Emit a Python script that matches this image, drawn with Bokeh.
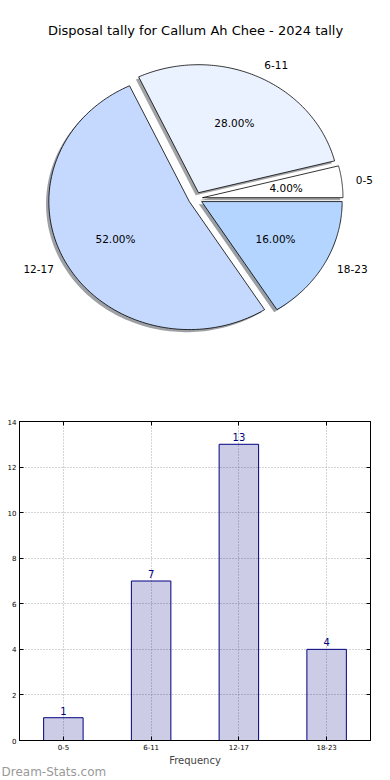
import numpy as np
from bokeh.plotting import figure
from bokeh.models import (Range1d, Label, ColumnDataSource, FactorRange, Title,
                          LinearAxis, CategoricalAxis)
from bokeh.embed import file_html
from bokeh.resources import INLINE
from bokeh.core.properties import value, field

# ---------------- data ----------------
title_text = "Disposal tally for Callum Ah Chee - 2024 tally"
categories = ["0-5", "6-11", "12-17", "18-23"]
counts = [1, 7, 13, 4]
pie_colors = ["#ffffff", "#ebf2ff", "#c5d9fe", "#b3d5ff"]
y_ticks = [0, 2, 4, 6, 8, 10, 12, 14]
x_label = "Frequency"
watermark = "Dream-Stats.com"

FONT = "DejaVu Sans"
explode = 0.05
label_dist = 1.1
pct_dist = 0.6

W = 390
H1 = 405
H2 = 375

# ---------------- pie ----------------
total = float(sum(counts))
fracs = np.array(counts) / total
edges = np.concatenate([[0.0], np.cumsum(fracs)]) * 2 * np.pi

px_x, px_y = 140.5, 128.0      # pixels per unit radius (matplotlib-like non-equal aspect)
cx, cy = 195.0, 198.0          # pie centre in the canvas (from left / from top)

pie = figure(width=W, height=H1, output_backend="svg", toolbar_location=None,
             x_range=Range1d(-cx / px_x, (W - cx) / px_x),
             y_range=Range1d(-(H1 - cy) / px_y, cy / px_y),
             x_axis_type=None, y_axis_type=None,
             min_border=0, min_border_left=0, min_border_right=0,
             min_border_top=0, min_border_bottom=0)
pie.grid.visible = False
pie.outline_line_color = None
pie.background_fill_color = "white"


def darker(hexcol, f=0.3):
    h = hexcol.lstrip("#")
    r, g, b = (int(h[i:i + 2], 16) for i in (0, 2, 4))
    return "#%02x%02x%02x" % (int(r * f), int(g * f), int(b * f))


wx, wy, sx, sy, sfill = [], [], [], [], []
lab = dict(x=[], y=[], text=[], align=[])
pct = dict(x=[], y=[], text=[])
for i in range(len(counts)):
    t0, t1 = edges[i], edges[i + 1]
    tm = 0.5 * (t0 + t1)
    ox, oy = explode * np.cos(tm), explode * np.sin(tm)
    th = np.linspace(t0, t1, 120)
    xx = np.concatenate([[ox], ox + np.cos(th), [ox]])
    yy = np.concatenate([[oy], oy + np.sin(th), [oy]])
    wx.append(list(xx)); wy.append(list(yy))
    sx.append(list(xx - 0.02)); sy.append(list(yy - 0.02))
    sfill.append(darker(pie_colors[i]))
    lx = ox + label_dist * np.cos(tm)
    ly = oy + label_dist * np.sin(tm)
    lab["x"].append(lx); lab["y"].append(ly); lab["text"].append(categories[i])
    lab["align"].append("left" if lx > 0 else "right")
    pct["x"].append(ox + pct_dist * np.cos(tm))
    pct["y"].append(oy + pct_dist * np.sin(tm))
    pct["text"].append("%.2f%%" % (100.0 * fracs[i]))

pie.patches(xs=sx, ys=sy, fill_color=sfill, fill_alpha=0.5, line_color=None)
pie.patches(xs=wx, ys=wy, fill_color=pie_colors, line_color="black", line_width=0.8)

pie.text(x="x", y="y", text="text", source=ColumnDataSource(lab),
         text_align=field("align"), text_baseline="middle",
         text_font=value(FONT), text_font_size="10.5px", text_color="black")
pie.text(x="x", y="y", text="text", source=ColumnDataSource(pct),
         text_align="center", text_baseline="middle",
         text_font=value(FONT), text_font_size="10.5px", text_color="black")

pie.add_layout(Label(x=195, y=H1 - 30, x_units="screen", y_units="screen",
                     text=title_text, text_align="center", text_baseline="middle",
                     text_font=FONT, text_font_size="13px", text_color="black"))

# ---------------- bar ----------------
bar = figure(width=W, height=H2, output_backend="svg", toolbar_location=None,
             x_range=FactorRange(*categories, range_padding=0),
             y_range=Range1d(0, 14),
             min_border_left=19, min_border_right=20,
             min_border_top=421 - H1, min_border_bottom=H1 + H2 - 740)
bar.outline_line_color = "black"
bar.outline_line_width = 1

bsrc = ColumnDataSource(dict(cat=categories, count=counts,
                             txt=[str(c) for c in counts]))
bar.vbar(x="cat", top="count", width=0.45, source=bsrc,
         fill_color="navy", fill_alpha=0.2, line_color="navy", line_width=1)
bar.text(x="cat", y="count", text="txt", source=bsrc,
         text_align="center", text_baseline="bottom", y_offset=-3,
         text_font=value(FONT), text_font_size="10px", text_color="navy")

for ax in (bar.xaxis, bar.yaxis):
    ax.axis_line_color = "black"
    ax.major_tick_in = 4
    ax.major_tick_out = 0
    ax.minor_tick_line_color = None
    ax.major_label_text_font = FONT
    ax.major_label_text_font_size = "7px"
    ax.major_label_text_color = "black"
    ax.major_label_standoff = 3

bar.yaxis.ticker = y_ticks
bar.ygrid.ticker = y_ticks
bar.xaxis.axis_label = x_label
bar.xaxis.axis_label_text_font = FONT
bar.xaxis.axis_label_text_font_size = "10px"
bar.xaxis.axis_label_text_font_style = "normal"
bar.xaxis.axis_label_standoff = 2
bar.xaxis.major_label_orientation = "horizontal"

# inward ticks on the right and top spines (matplotlib classic style)
right_ax = LinearAxis(ticker=y_ticks, axis_line_color="black", major_tick_in=4,
                      major_tick_out=0, minor_tick_line_color=None,
                      major_label_overrides={t: "" for t in y_ticks})
bar.add_layout(right_ax, "right")
top_ax = CategoricalAxis(axis_line_color="black", major_tick_in=4, major_tick_out=0,
                         major_label_text_color=None, major_label_text_font_size="1px",
                         major_label_standoff=0)
bar.add_layout(top_ax, "above")

for g in (bar.xgrid, bar.ygrid):
    g.grid_line_color = "#a8a8a8"
    g.grid_line_dash = "1 2"
    g.grid_line_width = 1

bar.add_layout(Title(text=watermark, align="left", offset=-18, standoff=-12,
                     text_font=FONT, text_font_size="12px", text_font_style="normal",
                     text_color="#999999"), "below")

open("out.html", "w").write(file_html([pie, bar], INLINE))
